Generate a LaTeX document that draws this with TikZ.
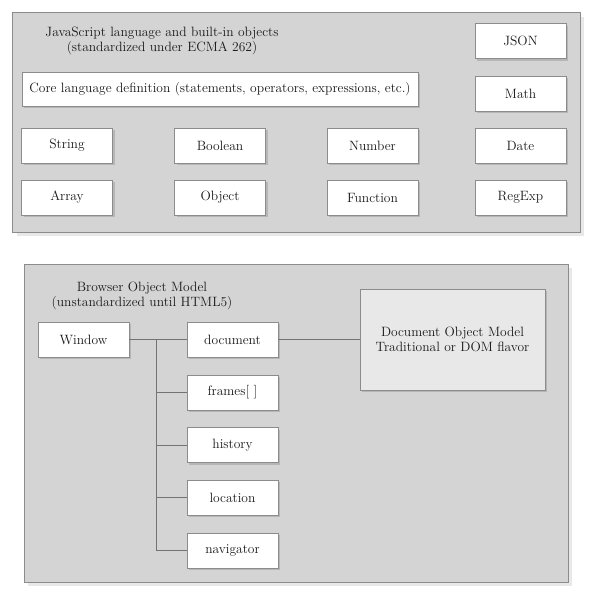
\documentclass[tikz,border=0pt]{standalone}
\usetikzlibrary{shadows}
\tikzset{
  panel/.style={draw=black!45, fill=black!17, line width=0.8pt,
    drop shadow={shadow xshift=4pt, shadow yshift=-4pt, opacity=0.18}},
  objbox/.style={draw=black!45, fill=white, line width=0.8pt, inner sep=0pt,
    minimum width=91pt, minimum height=35pt, text=black!90,
    drop shadow={shadow xshift=2pt, shadow yshift=-2pt, opacity=0.35}},
  wire/.style={draw=black!55, line width=0.8pt},
  caption/.style={align=center, text=black!90, font=\fontsize{13.5}{15.5}\selectfont}
}
\begin{document}
\begin{tikzpicture}[x=1pt, y=-1pt, font=\fontsize{13.5}{15.5}\selectfont]
  \useasboundingbox (0,0) rectangle (600,608);
  % language panel
  \draw[panel] (12.5,12.5) rectangle (580,232);
  \node[caption] (jstitle) at (162,41) {JavaScript language and built-in objects\\(standardized under ECMA 262)};
  \node[objbox, minimum width=396pt, minimum height=34pt] (core) at (220,89)
    {Core language definition (statements, operators, expressions, etc.)};
  \foreach \name/\txt/\x/\y in {json/JSON/520.5/41, math/Math/520.5/93.5,
      string/String/67/145.5, boolean/Boolean/220/145.5, number/Number/372.5/145.5, date/Date/520.5/145.5,
      array/Array/67/197.5, object/Object/220/197.5, function/Function/372.5/197.5, regexp/RegExp/520.5/197.5} {
    \node[objbox] (\name) at (\x,\y) {\txt};
  }
  % browser panel
  \draw[panel] (24,264) rectangle (568,582);
  \node[caption] (bomtitle) at (142,296) {Browser Object Model\\(unstandardized until HTML5)};
  \foreach \name/\txt/\x/\y in {window/Window/83.5/339.5, document/document/232.5/339.5,
      frames/{frames[\ ]}/232.5/392.5, history/history/232.5/445, location/location/232.5/497.5,
      navigator/navigator/232.5/550.5} {
    \node[objbox] (\name) at (\x,\y) {\txt};
  }
  \node[objbox, fill=black!9, minimum width=185pt, minimum height=101pt, align=center] (dom) at (452.5,339.5)
    {Document Object Model\\Traditional or DOM flavor};
  \coordinate (trunk) at (156,339.5);
  \draw[wire] (window.east) -- (document.west);
  \draw[wire] (document.east) -- (dom.west);
  \draw[wire] (trunk) |- (navigator.west);
  \foreach \n in {frames, history, location} {
    \draw[wire] (trunk |- \n.west) -- (\n.west);
  }
\end{tikzpicture}
\end{document}
